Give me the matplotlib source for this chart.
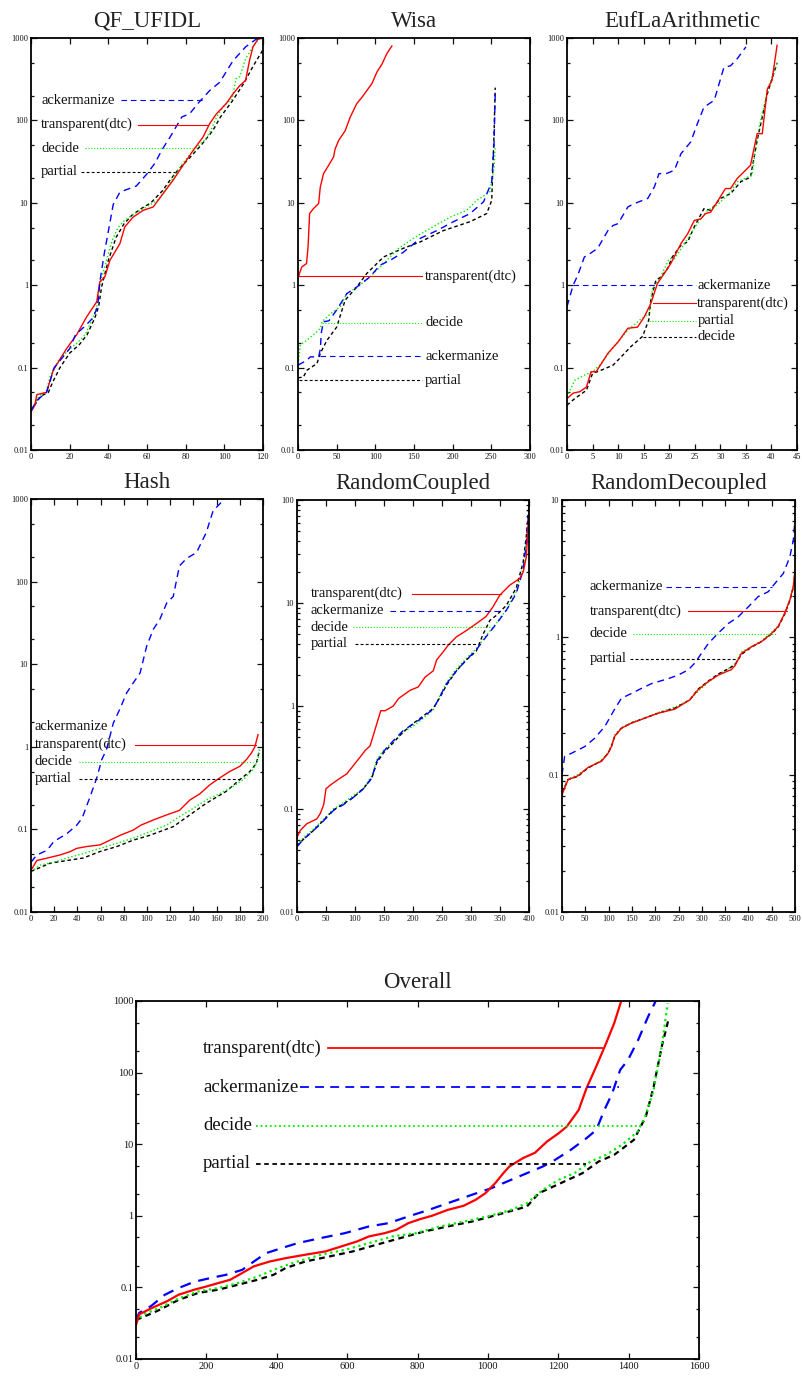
import matplotlib
matplotlib.use("Agg")
import matplotlib.pyplot as plt
from matplotlib.ticker import FixedLocator, LogLocator, NullFormatter, FuncFormatter

plt.rcParams['font.family'] = ['Liberation Serif', 'DejaVu Serif']

# ---------------- data: (instances solved, seconds) ----------------
# QF_UFIDL
qf_red = [(0, 0.029), (2, 0.035), (3, 0.047), (8, 0.05), (11.5, 0.093), (18.4, 0.17), (23.6, 0.25),
          (28.7, 0.41), (34, 0.63), (35.6, 1.1), (38.2, 1.26), (40.8, 2), (46, 3.2), (48.5, 5.1),
          (52.8, 6.7), (58, 8.1), (63.2, 8.9), (68.3, 12.9), (73.5, 18.8), (77, 25), (80.4, 32.7),
          (83.8, 43), (89, 63), (92.4, 91), (95.9, 120), (101, 160), (104.5, 210), (108, 265),
          (111, 305), (113, 530), (114.8, 780), (117.4, 970), (120, 1000)]
qf_blue = [(0, 0.03), (3, 0.04), (8, 0.05), (10, 0.07), (12, 0.1), (16, 0.13), (20, 0.17), (23, 0.25),
           (28, 0.32), (32, 0.4), (34.5, 0.55), (35.6, 1.1), (38, 2.5), (40, 4.5), (42.5, 9.5),
           (46, 13.5), (54.5, 16), (60, 22.5), (64, 30), (68, 45), (72, 63), (78, 110), (82, 120),
           (87, 167), (92.4, 230), (97.6, 290), (104.5, 530), (111, 780), (116.5, 970), (120, 1000)]
qf_green = [(0, 0.03), (4, 0.045), (8, 0.052), (10, 0.08), (14, 0.12), (19, 0.16), (24, 0.2), (28, 0.25),
            (32, 0.4), (34, 0.55), (36, 1.1), (39, 2), (42, 3.5), (45, 5), (48, 6), (54, 7.5), (60, 9),
            (66, 11), (70, 15), (74, 21), (78, 29), (82, 38), (86, 48), (90, 58), (93, 75), (96, 110),
            (100, 155), (104, 180), (106, 320), (108, 340), (111, 560), (115, 800), (118, 980), (120, 1000)]
qf_black = [(0, 0.03), (5, 0.045), (9, 0.05), (11, 0.065), (15, 0.1), (20, 0.15), (25, 0.19), (29, 0.25),
            (33, 0.4), (35, 0.55), (36.5, 0.95), (40, 2), (44, 3.8), (48, 5.5), (52, 7), (57, 8.5),
            (62, 10), (68, 14), (72, 19), (76, 25), (82, 35), (88, 50), (94, 75), (98, 110),
            (104, 170), (110, 280), (115, 460), (120, 720)]

# Wisa
wisa_red = [(0, 1.2), (2, 1.4), (5, 1.67), (11, 1.83), (13, 2.9), (15, 7.4), (20, 8.5), (26.7, 9.8),
            (28.8, 15.5), (33, 22.6), (39.6, 28.5), (46, 36), (48, 45), (52.5, 57), (61, 75),
            (67.6, 110), (76, 160), (82.6, 190), (89, 230), (95.6, 280), (102, 385), (108.5, 480),
            (115, 650), (121.4, 800)]
wisa_blue = [(0, 0.107), (11.6, 0.123), (16, 0.135), (26.7, 0.135), (29, 0.17), (30, 0.26), (33, 0.36),
             (40, 0.37), (50, 0.5), (63, 0.79), (76, 0.95), (93, 1.26), (106, 1.75), (119, 2.0),
             (136, 2.5), (158, 3.7), (179.5, 4.6), (201, 5.9), (222.5, 7.4), (240, 10.3),
             (250.5, 18), (253.5, 52), (255, 210)]
wisa_green = [(0, 0.11), (1, 0.13), (3, 0.19), (10, 0.21), (20, 0.25), (29, 0.3), (31, 0.36), (42, 0.45),
              (54.7, 0.55), (63, 0.79), (80, 1.0), (93, 1.26), (110.6, 1.83), (130, 2.8), (149, 3.7),
              (171, 4.9), (196.8, 6.7), (218, 8.1), (231, 10.7), (248, 13.5), (253.5, 27), (255, 48)]
wisa_black = [(0, 0.075), (7, 0.077), (11.6, 0.093), (24.5, 0.112), (29, 0.15), (37.5, 0.215), (50, 0.31),
              (61, 0.66), (76, 0.95), (89, 1.39), (110.6, 2.2), (136, 2.8), (158, 3.35), (188, 4.6),
              (222.5, 5.9), (244, 7.4), (250.5, 10.7), (253.5, 69), (255, 250)]

# EufLaArithmetic
euf_blue = [(0, 0.55), (1.2, 1.0), (2.1, 1.32), (3.4, 2.2), (4.4, 2.4), (6, 2.8), (8, 4.6), (9, 5.3),
            (10, 5.6), (11.9, 8.9), (13.2, 9.8), (15.8, 11.3), (17.1, 15.6), (18, 22.6), (19.4, 22.6),
            (21, 24.8), (22.3, 39.4), (24.2, 54.7), (25.5, 91), (26.8, 145), (28.8, 175), (30.7, 440),
            (32, 460), (33.3, 560), (35, 780)]
euf_red = [(0, 0.042), (1.2, 0.049), (2.5, 0.051), (3.8, 0.058), (4.7, 0.089), (5.7, 0.089), (8, 0.149),
           (10, 0.205), (11.9, 0.30), (13.8, 0.31), (15.1, 0.41), (16.4, 0.6), (17.7, 1.05), (19, 1.38),
           (20.3, 1.83), (22.3, 3.2), (23.6, 4.2), (24.9, 6.1), (26.2, 6.4), (27.1, 7.4), (28.1, 7.7),
           (29.4, 10.3), (31, 14.9), (32, 14.9), (33.3, 19.7), (34.6, 23.7), (35.9, 28.5), (37.2, 69),
           (38.2, 69), (39.2, 240), (40.1, 305), (41.1, 815)]
euf_green = [(0, 0.044), (1.5, 0.07), (3.4, 0.081), (5, 0.089), (6.7, 0.112), (8.6, 0.163), (11.9, 0.285),
             (14.5, 0.39), (16, 0.45), (16.8, 0.96), (18, 1.15), (20, 2.1), (21, 2.1), (23, 3.2),
             (25.5, 5.6), (27.5, 8.1), (29.4, 9.4), (32, 13.5), (33.3, 18), (36.2, 21.6), (37.2, 63),
             (39.2, 230), (41.1, 500)]
euf_black = [(0, 0.035), (1.5, 0.042), (3.8, 0.053), (5, 0.085), (6.7, 0.093), (9, 0.107), (10.6, 0.135),
             (12.5, 0.18), (14.8, 0.24), (16, 0.38), (16.4, 0.66), (17.4, 1.15), (18.4, 1.26), (19.7, 1.6),
             (20.6, 2.2), (22.3, 3.05), (23.6, 3.35), (24.9, 5.1), (26.8, 8.5), (28.1, 8.1), (30, 11.3),
             (32, 12.9), (34, 18), (35.9, 20.5), (37.2, 57), (39.2, 210), (41.1, 500)]

# Hash
hash_blue = [(0, 0.04), (5, 0.049), (14, 0.056), (19.5, 0.071), (31, 0.089), (39.5, 0.113), (44, 0.136),
             (51, 0.25), (56.7, 0.42), (61, 0.7), (65, 0.92), (71, 1.94), (77, 2.95), (82.5, 4.5),
             (88, 5.9), (94, 7.8), (99.7, 16.5), (105.4, 26.4), (111, 34.8), (117, 55), (122.6, 66),
             (128, 155), (134, 190), (142.7, 225), (151, 390), (157, 720), (164, 910), (165.6, 950)]
hash_red = [(0, 0.032), (5, 0.042), (14, 0.045), (25, 0.049), (34, 0.054), (39.5, 0.059), (48, 0.062),
            (59.6, 0.065), (68, 0.074), (77, 0.085), (88, 0.098), (95, 0.113), (105.4, 0.13), (117, 0.15),
            (128, 0.17), (137, 0.227), (145.6, 0.27), (154, 0.345), (162.7, 0.42), (171, 0.5),
            (180, 0.58), (185.7, 0.7), (190, 0.84), (193, 1.0), (195.7, 1.4)]
hash_green = [(0, 0.031), (8, 0.037), (19.5, 0.04), (31, 0.045), (45, 0.051), (59.6, 0.059), (74, 0.068),
              (88, 0.078), (102.6, 0.094), (117, 0.113), (128, 0.143), (140, 0.18), (151, 0.227),
              (162.7, 0.27), (174, 0.33), (183, 0.4), (191.4, 0.53), (195.7, 0.7), (197, 0.92)]
hash_black = [(0, 0.031), (16.6, 0.039), (31, 0.042), (45, 0.045), (59.6, 0.054), (74, 0.062), (88, 0.074),
              (102.6, 0.085), (122.6, 0.108), (137, 0.15), (151, 0.207), (168, 0.287), (180, 0.4),
              (188.5, 0.5), (194.3, 0.63), (197, 0.92)]

# RandomCoupled
rc_red = [(0, 0.053), (5.7, 0.062), (17, 0.072), (34, 0.08), (40, 0.09), (46, 0.11), (50, 0.157),
          (57, 0.17), (69, 0.19), (86, 0.22), (97.4, 0.265), (109, 0.32), (117.5, 0.37), (126, 0.41),
          (137.5, 0.67), (144.4, 0.9), (152, 0.9), (166, 1.0), (175, 1.18), (195, 1.42), (209, 1.53),
          (220.6, 1.9), (235, 2.2), (240.7, 2.8), (252, 3.35), (260.7, 3.9), (275, 4.7), (292, 5.4),
          (309, 6.3), (326, 7.4), (338, 9.2), (349.6, 11.9), (366.8, 14.9), (384, 17.3), (390, 20),
          (395.4, 28), (400, 74)]
rc_blue = [(0, 0.043), (11.5, 0.051), (28.7, 0.062), (46, 0.077), (63, 0.097), (80, 0.11), (97.4, 0.13),
           (114.6, 0.157), (129, 0.2), (137.5, 0.29), (149, 0.36), (166, 0.46), (183.4, 0.58),
           (200.6, 0.67), (217.8, 0.78), (235, 0.94), (246, 1.22), (258, 1.65), (275, 2.2), (292, 2.8),
           (309, 3.5), (326, 4.7), (344, 6.3), (361, 8.5), (378, 12.4), (390, 21), (395.4, 38), (400, 86)]
rc_green = [(0, 0.045), (11.5, 0.053), (28.7, 0.064), (46, 0.08), (63, 0.1), (80, 0.115), (97.4, 0.135),
            (114.6, 0.16), (129, 0.21), (137.5, 0.3), (149, 0.37), (166, 0.45), (183.4, 0.56),
            (200.6, 0.64), (217.8, 0.76), (235, 0.92), (246, 1.25), (258, 1.7), (275, 2.3), (292, 2.9),
            (309, 3.6), (326, 4.8), (344, 6.4), (361, 8.6), (378, 12.8), (390, 22), (395.4, 40), (400, 80)]
rc_black = [(0, 0.044), (11.5, 0.051), (28.7, 0.062), (46, 0.078), (63, 0.098), (80, 0.112), (97.4, 0.13),
            (114.6, 0.158), (129, 0.2), (137.5, 0.28), (149, 0.35), (166, 0.44), (183.4, 0.56),
            (200.6, 0.68), (217.8, 0.8), (235, 0.95), (246, 1.2), (258, 1.6), (275, 2.2), (292, 2.8),
            (309, 3.4), (321, 5.0), (332.7, 6.8), (344, 7.6), (361, 9.5), (378, 14), (390, 25),
            (395.4, 45), (400, 90)]

# RandomDecoupled
rd_blue = [(0, 0.1), (5.7, 0.136), (20, 0.143), (48.7, 0.16), (70, 0.184), (91.7, 0.224), (113, 0.30),
           (127.5, 0.36), (149, 0.39), (170.5, 0.425), (192, 0.46), (227.8, 0.50), (249, 0.53),
           (271, 0.58), (285, 0.65), (299.4, 0.765), (313.8, 0.9), (335, 1.07), (356.7, 1.26),
           (378, 1.41), (400, 1.67), (421, 1.98), (442.7, 2.15), (457, 2.47), (475, 2.92), (489, 3.86),
           (496.4, 5.1), (500, 7.2)]
rd_red = [(0, 0.071), (5.7, 0.08), (13, 0.092), (34, 0.098), (56, 0.113), (84.5, 0.125), (98.8, 0.143),
          (106, 0.16), (113, 0.19), (127.5, 0.218), (149, 0.237), (177.6, 0.258), (206, 0.28),
          (242, 0.3), (274, 0.35), (292, 0.415), (313.8, 0.476), (335, 0.53), (356.7, 0.57),
          (363, 0.58), (371, 0.62), (385, 0.765), (407, 0.855), (428, 0.93), (450, 1.07), (464, 1.2),
          (478, 1.5), (489, 1.87), (496.4, 2.34), (500, 3.1)]
rd_green = [(0, 0.078), (5.7, 0.083), (13, 0.093), (34, 0.1), (56, 0.112), (84.5, 0.127), (98.8, 0.145),
            (106, 0.165), (113, 0.195), (127.5, 0.22), (149, 0.24), (177.6, 0.26), (206, 0.283),
            (242, 0.31), (274, 0.35), (292, 0.405), (313.8, 0.47), (335, 0.53), (356.7, 0.59),
            (371, 0.64), (385, 0.78), (407, 0.86), (428, 0.94), (450, 1.09), (464, 1.21), (478, 1.5),
            (489, 1.9), (496.4, 2.4), (500, 3.0)]
rd_black = [(0, 0.075), (5.7, 0.081), (13, 0.092), (34, 0.097), (56, 0.112), (84.5, 0.126), (98.8, 0.143),
            (106, 0.16), (113, 0.19), (127.5, 0.218), (149, 0.238), (177.6, 0.258), (206, 0.28),
            (242, 0.305), (274, 0.35), (292, 0.42), (313.8, 0.48), (335, 0.54), (356.7, 0.59),
            (371, 0.63), (385, 0.75), (407, 0.85), (428, 0.93), (450, 1.06), (464, 1.19), (478, 1.48),
            (489, 1.85), (496.4, 2.3), (500, 2.9)]

# Overall
all_red = [(0, 0.03), (9, 0.042), (43, 0.051), (88, 0.064), (121, 0.079), (166, 0.093), (200, 0.103),
           (234, 0.115), (268, 0.128), (302, 0.159), (335, 0.197), (380, 0.23), (425, 0.256),
           (481, 0.286), (538, 0.318), (583, 0.373), (628, 0.438), (662, 0.515), (707, 0.573),
           (740, 0.638), (774, 0.79), (808, 0.9), (841, 1.0), (886, 1.21), (931, 1.38), (965, 1.67),
           (993, 2.07), (1021, 2.86), (1044, 3.94), (1061, 4.88), (1100, 6.4), (1134, 7.6), (1168, 10.9),
           (1201, 14.2), (1224, 17.6), (1258, 30), (1280, 60), (1308, 122), (1336, 257), (1359, 490),
           (1379, 1000)]
all_blue = [(0, 0.035), (9, 0.044), (43, 0.055), (82, 0.079), (121, 0.098), (166, 0.12), (211, 0.135),
            (256, 0.15), (302, 0.176), (335, 0.23), (369, 0.3), (414, 0.354), (459, 0.415), (526, 0.49),
            (594, 0.573), (662, 0.71), (718, 0.79), (774, 0.98), (830, 1.2), (886, 1.5), (954, 1.96),
            (1010, 2.43), (1066, 3.18), (1111, 3.94), (1156, 4.88), (1190, 6.0), (1235, 8.3),
            (1280, 12.1), (1308, 15.8), (1331, 30), (1353, 51), (1376, 109), (1398, 150), (1427, 285),
            (1455, 600), (1477, 1000)]
all_green = [(0, 0.033), (20, 0.042), (65, 0.051), (121, 0.07), (178, 0.088), (234, 0.098), (290, 0.115),
             (346, 0.142), (403, 0.186), (459, 0.23), (526, 0.286), (594, 0.335), (662, 0.415),
             (729, 0.515), (796, 0.573), (864, 0.71), (931, 0.83), (999, 0.98), (1066, 1.21), (1111, 1.5),
             (1156, 2.3), (1201, 3.18), (1246, 3.94), (1291, 5.7), (1336, 7.1), (1381, 9.8), (1426, 15),
             (1449, 25.7), (1471, 57), (1494, 230), (1511, 930)]
all_black = [(0, 0.035), (65, 0.048), (121, 0.067), (178, 0.084), (234, 0.093), (290, 0.109), (346, 0.128),
             (391, 0.15), (425, 0.186), (481, 0.23), (549, 0.27), (616, 0.318), (684, 0.395), (751, 0.488),
             (819, 0.604), (886, 0.71), (954, 0.83), (1010, 0.98), (1077, 1.21), (1111, 1.35),
             (1145, 2.07), (1201, 2.77), (1269, 3.94), (1314, 5.7), (1359, 7.1), (1415, 11.5),
             (1449, 24.4), (1471, 63), (1494, 230), (1514, 570)]

# ---------------- styles ----------------
STYLE = {
    'red': dict(color='#ff0000', ls='-'),
    'blue': dict(color='#0000ff', ls=(0, (5, 3.5))),
    'green': dict(color='#00ee00', ls=(0, (1, 1.6))),
    'black': dict(color='black', ls=(0, (2.6, 2))),
}

W, H = 802, 1376
fig = plt.figure(figsize=(W / 100, H / 100), dpi=100)


def make_axes(l, r, t, b):
    return fig.add_axes([l / W, 1 - b / H, (r - l) / W, (b - t) / H])


def panel(ax, title, curves, xmax, xstep, ymin, subs, labels, lw=1.0, fs=10.5, tfs=6, title_pad=8):
    for key, pts in curves:
        xs = [p[0] for p in pts]
        ys = [p[1] for p in pts]
        st = STYLE[key]
        ax.plot(xs, ys, color=st['color'], linestyle=st['ls'], lw=lw)
    for key, text, tx, y, x0, x1 in labels:
        st = STYLE[key]
        if x0 is not None:
            ax.plot([x0, x1], [y, y], color=st['color'], linestyle=st['ls'], lw=lw * 0.8)
        ax.text(tx, y, text, fontsize=fs, ha='left', va='center', color='#111111')
    ax.set_yscale('log')
    ax.set_ylim(ymin, 1000 if ymin == 0.01 and subs == (2, 5) else None)
    ax.set_xlim(0, xmax)
    ax.xaxis.set_major_locator(FixedLocator(list(range(0, xmax + 1, xstep))))
    ax.yaxis.set_major_locator(LogLocator(base=10, numticks=20))
    ax.yaxis.set_minor_locator(LogLocator(base=10, subs=subs, numticks=20))
    ax.yaxis.set_minor_formatter(NullFormatter())
    ax.yaxis.set_major_formatter(FuncFormatter(lambda v, p: '%g' % v))
    ax.tick_params(which='both', direction='in', top=True, right=True, width=0.9,
                   labelsize=tfs, colors='#111111', pad=2)
    ax.tick_params(which='major', length=4.5)
    ax.tick_params(which='minor', length=2.5)
    for s in ax.spines.values():
        s.set_linewidth(1.3)
    ax.set_title(title, fontsize=16.5, pad=title_pad, color='#222222')


# QF_UFIDL
ax = make_axes(31, 263, 38, 450)
panel(ax, 'QF_UFIDL', [('black', qf_black), ('green', qf_green), ('red', qf_red), ('blue', qf_blue)],
      120, 20, 0.01, (2, 5),
      [('blue', 'ackermanize', 5.2, 175, 46.8, 89.8),
       ('red', 'transparent(dtc)', 5.2, 89, 55.4, 91.6),
       ('green', 'decide', 5.2, 46, 27.9, 83.8),
       ('black', 'partial', 5.2, 23.7, 26, 74.4)])
ax.set_ylim(0.01, 1000)

# Wisa
ax = make_axes(298, 530, 38, 450)
panel(ax, 'Wisa', [('black', wisa_black), ('green', wisa_green), ('blue', wisa_blue), ('red', wisa_red)],
      300, 50, 0.01, (2, 5),
      [('red', 'transparent(dtc)', 164.5, 1.29, 0, 160),
       ('green', 'decide', 164.5, 0.35, 31, 160),
       ('blue', 'ackermanize', 164.5, 0.138, 29, 160),
       ('black', 'partial', 164.5, 0.07, 1, 160)])
ax.set_ylim(0.01, 1000)

# EufLaArithmetic
ax = make_axes(567, 797, 38, 450)
panel(ax, 'EufLaArithmetic', [('black', euf_black), ('green', euf_green), ('red', euf_red), ('blue', euf_blue)],
      45, 5, 0.01, (2, 5),
      [('blue', 'ackermanize', 25.5, 1.0, 1.2, 25.2),
       ('red', 'transparent(dtc)', 25.5, 0.61, 16.8, 25.2),
       ('green', 'partial', 25.5, 0.37, 16.1, 25.2),
       ('black', 'decide', 25.5, 0.236, 14.8, 25.2)])
ax.set_ylim(0.01, 1000)

# Hash
ax = make_axes(31, 263, 499, 912)
panel(ax, 'Hash', [('black', hash_black), ('green', hash_green), ('red', hash_red), ('blue', hash_blue)],
      200, 20, 0.01, (2, 5),
      [('blue', 'ackermanize', 3.2, 1.77, None, None),
       ('red', 'transparent(dtc)', 3.2, 1.06, 89.7, 194),
       ('green', 'decide', 3.2, 0.66, 41, 191),
       ('black', 'partial', 3.2, 0.41, 41, 180)])
ax.set_ylim(0.01, 1000)

# RandomCoupled
ax = make_axes(297, 529, 500, 912)
panel(ax, 'RandomCoupled', [('green', rc_green), ('black', rc_black), ('blue', rc_blue), ('red', rc_red)],
      400, 50, 0.01, (2, 3, 4, 5, 6, 7, 8, 9),
      [('red', 'transparent(dtc)', 24, 12.3, 197.7, 352),
       ('blue', 'ackermanize', 24, 8.4, 160.5, 355),
       ('green', 'decide', 24, 5.8, 97.4, 335),
       ('black', 'partial', 24, 4.0, 100, 309)])
ax.set_ylim(0.01, 100)

# RandomDecoupled
ax = make_axes(562, 795, 500, 912)
panel(ax, 'RandomDecoupled', [('blue', rd_blue), ('green', rd_green), ('black', rd_black), ('red', rd_red)],
      500, 50, 0.01, (2, 3, 4, 5, 6, 7, 8, 9),
      [('blue', 'ackermanize', 59.5, 2.34, 224, 450),
       ('red', 'transparent(dtc)', 59.5, 1.55, 271, 482),
       ('green', 'decide', 59.5, 1.06, 152.6, 460.6),
       ('black', 'partial', 59.5, 0.70, 145, 374.6)])
ax.set_ylim(0.01, 10)

# Overall
ax = make_axes(136, 699, 1001, 1359)
panel(ax, 'Overall', [('black', all_black), ('green', all_green), ('blue', all_blue), ('red', all_red)],
      1600, 200, 0.01, (2, 5),
      [('red', 'transparent(dtc)', 191, 218, 547, 1325),
       ('blue', 'ackermanize', 191, 62, 465, 1372),
       ('green', 'decide', 191, 18.2, 341, 1432),
       ('black', 'partial', 191, 5.3, 341, 1280)],
      lw=1.6, fs=13.5, tfs=7.5, title_pad=9)
ax.set_ylim(0.01, 1000)

fig.savefig('out.png', dpi=100)
